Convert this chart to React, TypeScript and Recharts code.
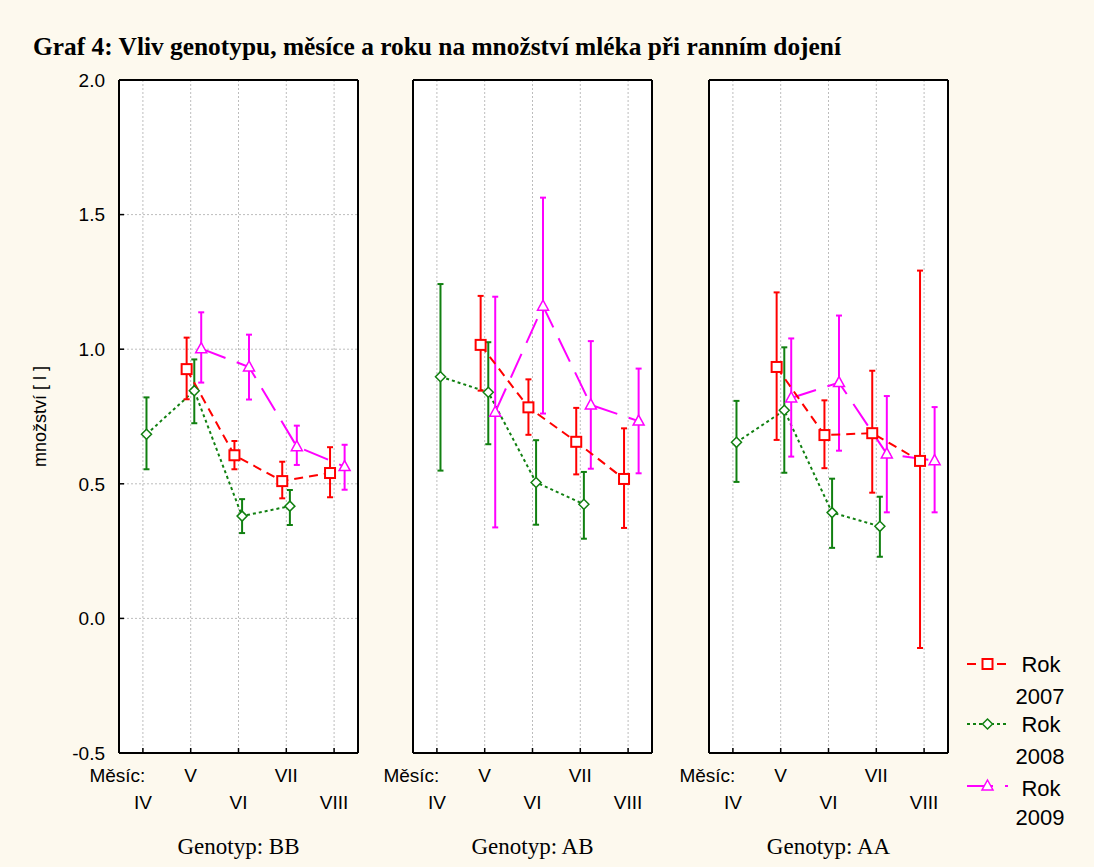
import React from 'react';
import { ComposedChart, Line, XAxis, YAxis, CartesianGrid, ErrorBar } from 'recharts';

const MONTHS = ['IV', 'V', 'VI', 'VII', 'VIII'];
const X_TICKS = [0.5, 1.5, 2.5, 3.5, 4.5];
const Y_TICKS = [-0.5, 0, 0.5, 1.0, 1.5, 2.0];
const GENOTYPES = ['BB', 'AB', 'AA'];

// Genotyp BB
const bb2007Mean = [null, 0.926, 0.606, 0.51, 0.54];
const bb2007Lo = [null, 0.814, 0.554, 0.446, 0.45];
const bb2007Hi = [null, 1.043, 0.659, 0.582, 0.636];
const bb2008Mean = [0.684, 0.846, 0.38, 0.417, null];
const bb2008Lo = [0.554, 0.725, 0.317, 0.347, null];
const bb2008Hi = [0.821, 0.962, 0.443, 0.477, null];
const bb2009Mean = [null, 1.002, 0.934, 0.638, 0.564];
const bb2009Lo = [null, 0.876, 0.813, 0.57, 0.478];
const bb2009Hi = [null, 1.137, 1.054, 0.716, 0.645];

// Genotyp AB
const ab2007Mean = [null, 1.016, 0.784, 0.656, 0.518];
const ab2007Lo = [null, 0.846, 0.682, 0.535, 0.336];
const ab2007Hi = [null, 1.198, 0.888, 0.782, 0.706];
const ab2008Mean = [0.898, 0.84, 0.505, 0.424, null];
const ab2008Lo = [0.549, 0.647, 0.348, 0.296, null];
const ab2008Hi = [1.242, 1.026, 0.662, 0.544, null];
const ab2009Mean = [null, 0.766, 1.16, 0.793, 0.733];
const ab2009Lo = [null, 0.338, 0.761, 0.556, 0.539];
const ab2009Hi = [null, 1.195, 1.563, 1.03, 0.928];

// Genotyp AA
const aa2007Mean = [null, 0.934, 0.681, 0.688, 0.585];
const aa2007Lo = [null, 0.663, 0.558, 0.467, -0.11];
const aa2007Hi = [null, 1.211, 0.81, 0.92, 1.292];
const aa2008Mean = [0.654, 0.773, 0.393, 0.342, null];
const aa2008Lo = [0.507, 0.541, 0.262, 0.229, null];
const aa2008Hi = [0.808, 1.007, 0.519, 0.452, null];
const aa2009Mean = [null, 0.819, 0.876, 0.611, 0.586];
const aa2009Lo = [null, 0.601, 0.623, 0.394, 0.394];
const aa2009Hi = [null, 1.04, 1.125, 0.826, 0.785];

const PANEL_DATA: Record<string, Record<string, (number | null)[][]>> = {
  BB: { '2007': [bb2007Mean, bb2007Lo, bb2007Hi], '2008': [bb2008Mean, bb2008Lo, bb2008Hi], '2009': [bb2009Mean, bb2009Lo, bb2009Hi] },
  AB: { '2007': [ab2007Mean, ab2007Lo, ab2007Hi], '2008': [ab2008Mean, ab2008Lo, ab2008Hi], '2009': [ab2009Mean, ab2009Lo, ab2009Hi] },
  AA: { '2007': [aa2007Mean, aa2007Lo, aa2007Hi], '2008': [aa2008Mean, aa2008Lo, aa2008Hi], '2009': [aa2009Mean, aa2009Lo, aa2009Hi] },
};

const STYLES: Record<string, { color: string; dash: string; shift: number; marker: string }> = {
  '2007': { color: '#ff0000', dash: '9 6', shift: -0.085, marker: 'square' },
  '2008': { color: '#118011', dash: '3 3', shift: 0.075, marker: 'diamond' },
  '2009': { color: '#ff00ff', dash: '26 12', shift: 0.22, marker: 'triangle' },
};

const SANS = '"Liberation Sans", Arial, sans-serif';
const SERIF = '"Liberation Serif", "Times New Roman", serif';

const PLOT_TOP = 80;
const PLOT_H = 673;
const PLOT_W = 239;
const PANEL_LEFTS = [119, 413, 709];

function buildSeries(mean: (number | null)[], lo: (number | null)[], hi: (number | null)[], shift: number) {
  const out: { x: number; y: number; err: [number, number] }[] = [];
  mean.forEach((m, i) => {
    if (m == null) return;
    out.push({ x: i + 0.5 + shift, y: m, err: [m - (lo[i] as number), (hi[i] as number) - m] });
  });
  return out;
}

function Marker({ cx, cy, kind, color }: { cx: number; cy: number; kind: string; color: string }) {
  if (kind === 'square')
    return <rect x={cx - 5} y={cy - 5} width={10} height={10} fill="#fff" stroke={color} strokeWidth={2} />;
  if (kind === 'diamond')
    return (
      <polygon
        points={`${cx},${cy - 5} ${cx + 5},${cy} ${cx},${cy + 5} ${cx - 5},${cy}`}
        fill="#fff"
        stroke={color}
        strokeWidth={1.5}
      />
    );
  return (
    <polygon
      points={`${cx},${cy - 6} ${cx + 5.5},${cy + 4} ${cx - 5.5},${cy + 4}`}
      fill="#fff"
      stroke={color}
      strokeWidth={1.5}
    />
  );
}

function MonthTick(props: any) {
  const { x, y, payload } = props;
  const i = Math.round(payload.value - 0.5);
  const upper = i % 2 === 1;
  return (
    <g>
      {i === 0 && (
        <text x={x - 53.5} y={y + 29} fontSize={19} fontFamily={SANS} fill="#000">
          Měsíc:
        </text>
      )}
      <text x={x} y={y + (upper ? 29 : 55.5)} textAnchor="middle" fontSize={19} fontFamily={SANS} fill="#000">
        {MONTHS[i]}
      </text>
    </g>
  );
}

function Panel({ genotype, index }: { genotype: string; index: number }) {
  const showY = index === 0;
  const L = showY ? 119 : 40;
  const frame = { stroke: '#000', strokeWidth: 2 };
  const tickLine = { stroke: '#000', strokeWidth: 1.5 };
  return (
    <div style={{ position: 'absolute', left: PANEL_LEFTS[index] - L, top: PLOT_TOP - 10 }}>
      <ComposedChart
        width={L + PLOT_W + 12}
        height={10 + PLOT_H + 112}
        margin={{ top: 9, right: 11, bottom: 0, left: 0 }}
      >
        <CartesianGrid stroke="#bdbdbd" strokeDasharray="2 2" fill="#ffffff" fillOpacity={1} />
        <XAxis
          dataKey="x"
          type="number"
          domain={[0, 5]}
          ticks={X_TICKS}
          interval={0}
          allowDataOverflow
          height={112}
          tickSize={-5}
          tickMargin={5}
          axisLine={frame}
          tickLine={tickLine}
          tick={<MonthTick />}
          label={(p: any) => (
            <text
              x={p.viewBox.x + p.viewBox.width / 2}
              y={p.viewBox.y + 101}
              textAnchor="middle"
              fontSize={23}
              fontFamily={SERIF}
              fill="#000"
            >
              {`Genotyp: ${genotype}`}
            </text>
          )}
        />
        <XAxis
          xAxisId="top"
          orientation="top"
          type="number"
          domain={[0, 5]}
          ticks={X_TICKS}
          interval={0}
          height={1}
          tickSize={-5}
          tick={false}
          axisLine={frame}
          tickLine={tickLine}
        />
        <YAxis
          type="number"
          domain={[-0.5, 2]}
          ticks={Y_TICKS}
          interval={0}
          allowDataOverflow
          width={L}
          tickSize={-5}
          tickMargin={19}
          axisLine={frame}
          tickLine={tickLine}
          tickFormatter={(v: number) => v.toFixed(1)}
          tick={showY ? { fontSize: 19, fontFamily: SANS, fill: '#000' } : false}
          label={
            showY
              ? (p: any) => (
                  <text
                    x={46}
                    y={p.viewBox.y + p.viewBox.height / 2}
                    transform={`rotate(-90, 46, ${p.viewBox.y + p.viewBox.height / 2})`}
                    textAnchor="middle"
                    fontSize={18}
                    fontFamily={SANS}
                    fill="#000"
                  >
                    množství [ l ]
                  </text>
                )
              : undefined
          }
        />
        <YAxis
          yAxisId="right"
          orientation="right"
          type="number"
          domain={[-0.5, 2]}
          ticks={Y_TICKS}
          interval={0}
          width={1}
          tickSize={-5}
          tick={false}
          axisLine={frame}
          tickLine={tickLine}
        />
        {['2008', '2009', '2007'].map((yr) => {
          const st = STYLES[yr];
          const [m, lo, hi] = PANEL_DATA[genotype][yr];
          const pts = buildSeries(m, lo, hi, st.shift);
          return (
            <Line
              key={yr}
              data={pts}
              dataKey="y"
              name={`Rok ${yr}`}
              stroke={st.color}
              strokeWidth={2}
              strokeDasharray={st.dash}
              isAnimationActive={false}
              activeDot={false}
              dot={(d: any) => (
                <Marker key={`${yr}-${d.index}`} cx={d.cx} cy={d.cy} kind={st.marker} color={st.color} />
              )}
            >
              <ErrorBar dataKey="err" direction="y" width={3} stroke={st.color} strokeWidth={2} />
            </Line>
          );
        })}
      </ComposedChart>
    </div>
  );
}

function LegendBox() {
  const rows = [
    { yr: '2007', ly: 664, b1: 672, b2: 704 },
    { yr: '2008', ly: 724, b1: 732, b2: 764 },
    { yr: '2009', ly: 786, b1: 796, b2: 825 },
  ];
  return (
    <svg width={160} height={220} style={{ position: 'absolute', left: 940, top: 630 }}>
      <g transform="translate(-940,-630)">
        {rows.map((r) => {
          const st = STYLES[r.yr];
          return (
            <g key={r.yr}>
              <line x1={967} x2={1008} y1={r.ly} y2={r.ly} stroke={st.color} strokeWidth={2} strokeDasharray={st.dash} />
              <Marker cx={987.5} cy={r.ly} kind={st.marker} color={st.color} />
              <text x={1041} y={r.b1} textAnchor="middle" fontSize={22} fontFamily={SANS} fill="#000">
                Rok
              </text>
              <text x={1040} y={r.b2} textAnchor="middle" fontSize={22} fontFamily={SANS} fill="#000">
                {r.yr}
              </text>
            </g>
          );
        })}
      </g>
    </svg>
  );
}

export default function App() {
  return (
    <div
      style={{
        position: 'absolute',
        left: 0,
        top: 0,
        width: 1094,
        height: 867,
        background: '#fdf9ee',
        overflow: 'hidden',
      }}
    >
      <svg width={1094} height={70} style={{ position: 'absolute', left: 0, top: 0 }}>
        <text
          x={33}
          y={55}
          fontSize={26}
          fontWeight="bold"
          fontFamily={SERIF}
          textLength={808}
          lengthAdjust="spacingAndGlyphs"
          fill="#000"
        >
          Graf 4: Vliv genotypu, měsíce a roku na množství mléka při ranním dojení
        </text>
      </svg>
      {GENOTYPES.map((g, i) => (
        <Panel key={g} genotype={g} index={i} />
      ))}
      <LegendBox />
    </div>
  );
}
